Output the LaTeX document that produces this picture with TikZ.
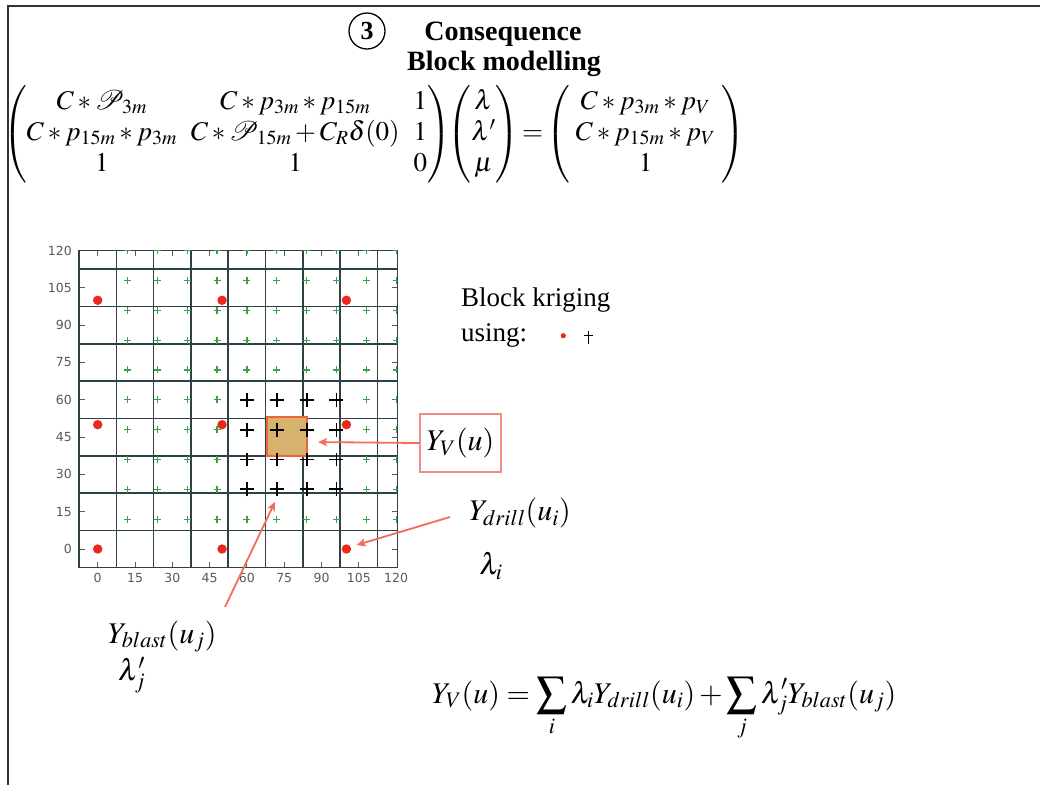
\documentclass[tikz,border=0pt]{standalone}
\usepackage{amsmath}
\usepackage{mathptmx}
\usepackage[no-math]{fontspec}
\setmainfont{Liberation Serif}
\newfontfamily\tickfont{DejaVu Sans}
\usetikzlibrary{arrows.meta}
\definecolor{gridc}{RGB}{45,65,70}
\definecolor{greenp}{RGB}{60,160,70}
\definecolor{reddot}{RGB}{235,40,30}
\definecolor{blockfill}{RGB}{215,178,110}
\definecolor{blockedge}{RGB}{235,100,60}
\definecolor{salmon}{RGB}{240,110,90}
\definecolor{boxedge}{RGB}{240,140,130}
\definecolor{tickgray}{RGB}{90,90,90}
\begin{document}
\begin{tikzpicture}[x=1pt,y=-1pt,
  gridline/.style={draw=gridc,line width=1.6pt},
  tickline/.style={draw=tickgray,line width=0.9pt},
  ticklabel/.style={text=tickgray,font=\tickfont\fontsize{12.5}{14}\selectfont,inner sep=0pt},
  greenplus/.style={draw=greenp,line width=1.2pt},
  blackplus/.style={draw=black,line width=1.8pt},
  arr/.style={draw=salmon,line width=1.8pt,-{Stealth[length=9pt,width=8pt,inset=2pt]}},
  mathtext/.style={inner sep=0pt,font=\fontsize{30}{36}\selectfont},
  titletext/.style={inner sep=0pt,font=\bfseries\fontsize{28}{32}\selectfont},
  plaintext/.style={inner sep=0pt,font=\fontsize{27}{32}\selectfont}]
\useasboundingbox (0,0) rectangle (1040,785);
\fill[white] (0,0) rectangle (1040,785);
% slide border
\draw[draw=black!80,line width=2pt] (8,785) -- (8,6) -- (1040,6);
% title
\node[draw,circle,line width=1.3pt,minimum size=36pt,inner sep=0pt,font=\bfseries\fontsize{26}{30}\selectfont] (num) at (367,31) {3};
\node[titletext,anchor=base] (t1) at (503,40) {Consequence};
\node[titletext,anchor=base] (t2) at (504,70) {Block modelling};
% matrix equation
\node[inner sep=0pt,anchor=west,font=\fontsize{27}{31}\selectfont] (eq) at (3,134) {\setlength{\arraycolsep}{7pt}$
\begin{pmatrix} C\ast\mathcal{P}_{3m} & C\ast p_{3m}\ast p_{15m} & 1\\
C\ast p_{15m}\ast p_{3m} & C\ast\mathcal{P}_{15m}+C_R\delta(0) & 1\\
1 & 1 & 0\end{pmatrix}\!\!
\begin{pmatrix}\lambda\\ \lambda'\\ \mu\end{pmatrix}
\!=\!\begin{pmatrix}\;C\ast p_{3m}\ast p_V\;\\ \;C\ast p_{15m}\ast p_V\;\\ 1\end{pmatrix}$};
% tick labels
\foreach \v in {0,15,...,120} {
  \node[ticklabel] (xl\v) at ({97.7+2.487*\v},578) {\v};
}
\begin{scope}
\clip (0,245) rectangle (80,600);
\foreach \v in {0,15,...,120} {
  \node[ticklabel,anchor=east] (yl\v) at (72,{549-2.487*\v}) {\v};
}
\end{scope}
% plot
\begin{scope}[shift={(97.7,549)},x=2.487pt,y=2.487pt]
  \foreach \g in {7.5,22.5,...,112.5} {
    \draw[gridline] (\g,-7.5) -- (\g,120);
    \draw[gridline] (-7.5,\g) -- (120.5,\g);
  }
  \foreach \v in {0,15,...,105} {
    \draw[tickline] (-7.5,\v) -- (-5.3,\v) (120.5,\v) -- (118.3,\v)
                    (\v,-7.5) -- (\v,-5.3) (\v,120) -- (\v,117.8);
  }
  \draw[gridline] (-7.5,-7.5) rectangle (120.5,120);
  \filldraw[fill=blockfill,draw=blockedge,line width=2.2pt] (68,37.5) rectangle (84,53);
  \begin{scope}
    \clip (-7.5,-7.5) rectangle (120.5,120);
    \foreach \i in {12,24,...,120} {
      \foreach \j in {12,24,...,120} {
        \draw[greenplus] (\i-1.4,\j) -- (\i+1.4,\j) (\i,\j-1.4) -- (\i,\j+1.4);
      }
    }
  \end{scope}
  \foreach \i in {60,72,84,96} {
    \foreach \j in {24,36,48,60} {
      \draw[blackplus] (\i-2.8,\j) -- (\i+2.8,\j) (\i,\j-2.8) -- (\i,\j+2.8);
    }
  }
  \foreach \i in {0,50,100} {
    \foreach \j in {0,50,100} {
      \fill[reddot] (\i,\j) circle (1.9);
    }
  }
  \coordinate (tipV) at (88.6,43);
  \coordinate (tipD) at (104.1,1.6);
  \coordinate (tipB) at (71.3,19);
\end{scope}
% legend text
\node[plaintext,anchor=base west] (bk) at (461,306.7) {Block kriging};
\node[plaintext,anchor=base west] (us) at (461,341) {using:};
\fill[reddot] (563.3,335.7) circle (2.6);
\draw[black,line width=1pt] (588.3,331) -- (588.3,344) (584,335.5) -- (592.5,335.5);
% labels
\node[draw=boxedge,line width=1.4pt,minimum width=81pt,minimum height=58pt,inner sep=0pt,font=\fontsize{30}{36}\selectfont] (yv) at (460.5,443) {$Y_V(u)$};
\node[mathtext] (drill) at (520,513) {$Y_{drill}(u_i)$};
\node[mathtext] (lami) at (491,566) {$\lambda_i$};
\node[mathtext,anchor=base west] (blast) at (108,643) {$Y_{blast}(u_j)$};
\node[mathtext,anchor=base west] (lamj) at (118,680) {$\lambda'_j$};
\node[mathtext,anchor=base west] (form) at (432,703) {$\displaystyle Y_V(u)=\sum_i\lambda_i Y_{drill}(u_i)+\sum_j\lambda'_j Y_{blast}(u_j)$};
% arrows
\coordinate (dS) at (450,517);
\coordinate (bS) at (225,607);
\draw[arr] (yv.west) -- (tipV);
\draw[arr] (dS) -- (tipD);
\draw[arr] (bS) -- (tipB);
\end{tikzpicture}
\end{document}
